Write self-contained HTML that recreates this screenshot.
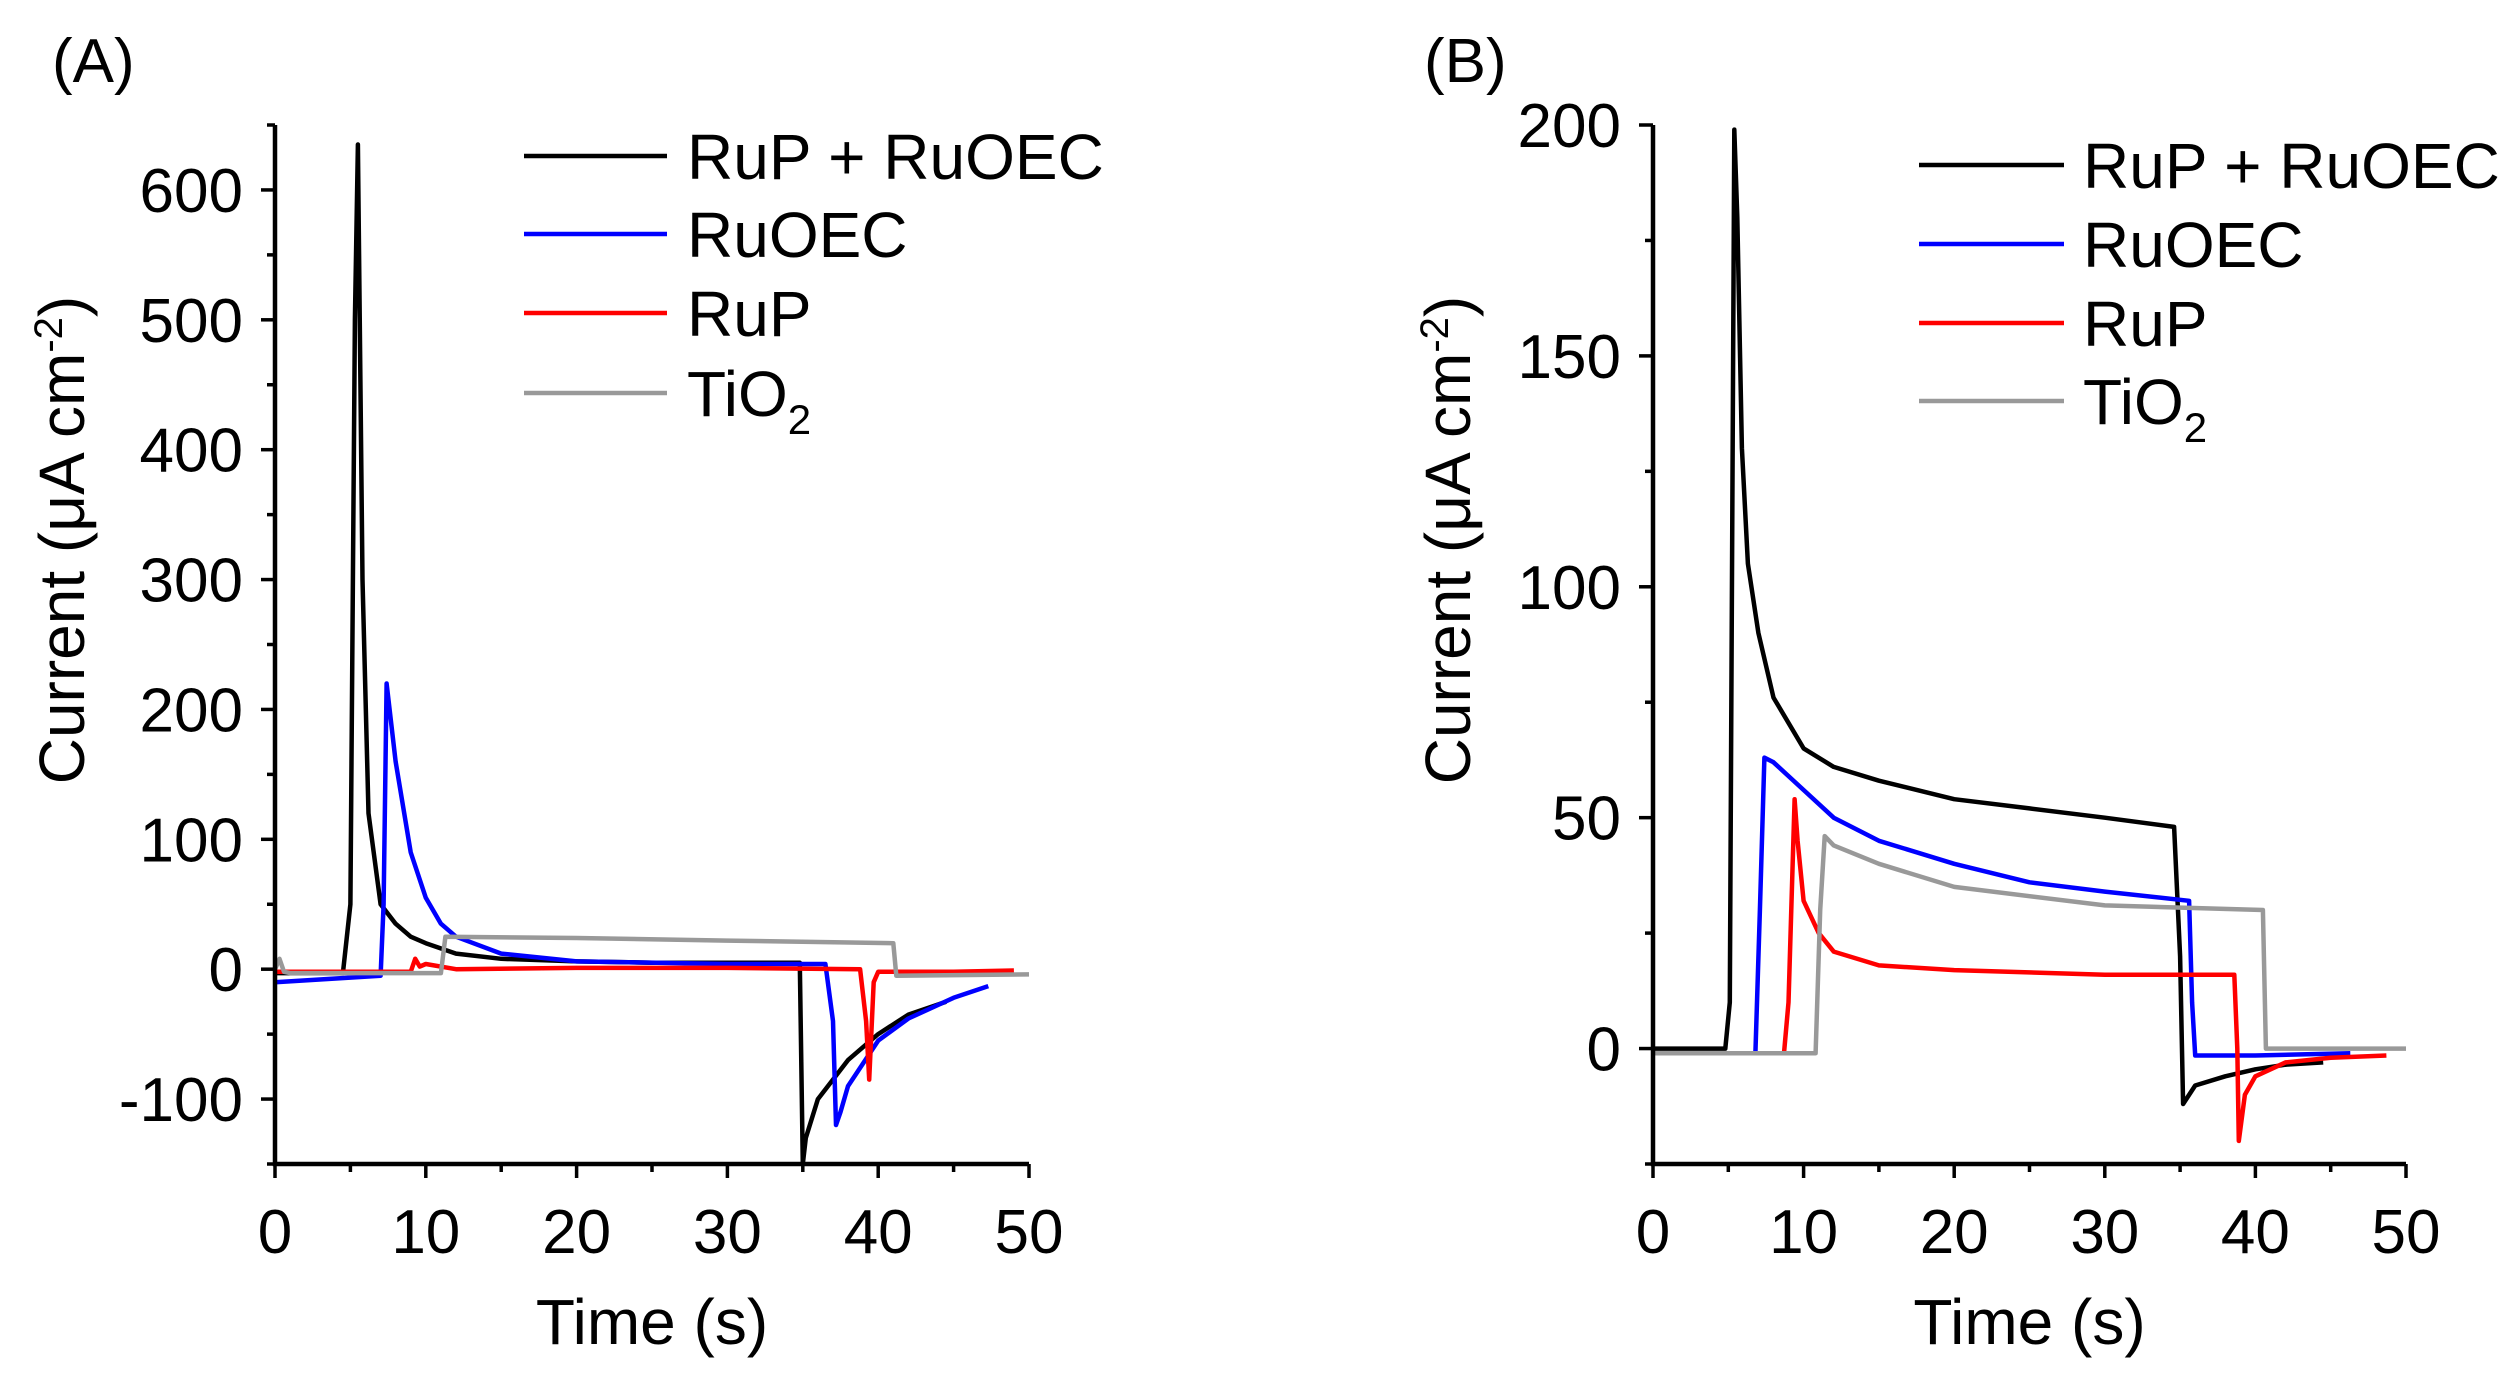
<!DOCTYPE html>
<html><head><meta charset="utf-8"><style>
html,body{margin:0;padding:0;background:#fff;}
svg{display:block;font-family:"Liberation Sans",Arial,sans-serif;}
</style></head><body>
<svg id="chart" width="2518" height="1378" viewBox="0 0 2518 1378"></svg>
<script>
// ---- Panel A data ----
const aBlackT = [0,4.5,5,5.3,5.5,5.8,6.2,7,8,9,10,12,15,20,25,30,34.8,35,35.2,36,38,40,42,44.5];
const aBlackV = [-3,-3,50,500,635,300,120,50,35,25,20,12,8,6,5,5,5,-150,-130,-100,-70,-50,-35,-25];
const aBlueT = [0,7,7.2,7.4,8,9,10,11,12,15,20,30,36.5,37,37.2,37.5,38,40,42,45,47.3];
const aBlueV = [-10,-5,50,220,160,90,55,35,25,12,6,4,4,-40,-120,-110,-90,-55,-38,-22,-13];
const aRedT = [0,9,9.3,9.6,10,12,20,30,38.8,39.2,39.4,39.7,40,45,49];
const aRedV = [-2,-2,8,2,4,0,1,1,0,-40,-85,-10,-2,-2,-1];
const aGrayT = [0,0.3,0.6,1,11,11.3,20,30,41,41.2,50];
const aGrayV = [0,8,-2,-3,-3,25,24,22,20,-5,-4];
// ---- Panel B data ----
const bBlackT = [0,4.8,5.1,5.4,5.6,5.9,6.3,7,8,10,12,15,20,25,30,34.6,35,35.2,36,38,40,42,44.5];
const bBlackV = [0,0,10,199,180,130,105,90,76,65,61,58,54,52,50,48,20,-12,-8,-6,-4.5,-3.5,-3];
const bBlueT = [0,6.8,7.1,7.4,8,10,12,15,20,25,30,35.6,35.8,36,40,46.3];
const bBlueV = [-1,-1,30,63,62,56,50,45,40,36,34,32,10,-1.5,-1.5,-1];
const bRedT = [0,8.7,9,9.4,9.6,10,11,12,15,20,30,38.6,38.8,38.9,39.3,40,42,45,48.7];
const bRedV = [-1,-1,10,54,45,32,25,21,18,17,16,16,0,-20,-10,-6,-3,-2,-1.5];
const bGrayT = [0,10.8,11.1,11.4,12,15,20,30,40.5,40.7,50];
const bGrayV = [-1,-1,30,46,44,40,35,31,30,0,0];
const xTicks = [0,10,20,30,40,50];
const aYTicks = [-100,0,100,200,300,400,500,600];
const bYTicks = [0,50,100,150,200];
const legendNames = ["RuP + RuOEC","RuOEC","RuP","TiO2"];
const colors = ["#000","#0000ff","#ff0000","#999"];

const NS="http://www.w3.org/2000/svg";
const svg=document.getElementById('chart');
function mk(tag,attrs,parent){const e=document.createElementNS(NS,tag);for(const k in attrs)e.setAttribute(k,attrs[k]);(parent||svg).appendChild(e);return e;}

function panel(cfg){
  const g=mk('g',{});
  
  
  const X=t=>cfg.x0+(t-0)/50*(cfg.x1-cfg.x0);
  const Y=v=>cfg.yb-(v-cfg.ymin)/(cfg.ymax-cfg.ymin)*(cfg.yb-cfg.yt);
  cfg.series.forEach((s,i)=>{
    const d=s.t.map((t,j)=>(j?'L':'M')+X(t).toFixed(1)+' '+Y(s.v[j]).toFixed(1)).join(' ');
    const p=mk('path',{d:d,fill:'none',stroke:colors[i],'stroke-width':4.5,'stroke-linejoin':'round'},g);
    
    
  });
  const ax=mk('path',{d:`M${cfg.x0} ${cfg.yt} L${cfg.x0} ${cfg.yb} L${cfg.x1} ${cfg.yb}`,fill:'none',stroke:'#000','stroke-width':4.5},g);
  
  
  for(let t=0;t<=50;t+=5){const L=t%10===0?14:8;mk('line',{x1:X(t),x2:X(t),y1:cfg.yb,y2:cfg.yb+L,stroke:'#000','stroke-width':3.5},g);}
  xTicks.forEach(t=>{const tx=mk('text',{x:X(t),y:1253,'font-size':62,'text-anchor':'middle'},g);tx.textContent=t;
    
    });
  for(let v=cfg.ymin;v<=cfg.ymax+0.01;v+=cfg.minor){const major=Math.abs((v/cfg.major)-Math.round(v/cfg.major))<1e-6;mk('line',{x1:cfg.x0-(major?14:8),x2:cfg.x0,y1:Y(v),y2:Y(v),stroke:'#000','stroke-width':3.5},g);}
  cfg.yTicks.forEach(v=>{const tx=mk('text',{x:cfg.x0-32,y:Y(v)+22,'font-size':62,'text-anchor':'end'},g);tx.textContent=v;
    
    });
  const xt=mk('text',{x:(cfg.x0+cfg.x1)/2,y:1344,'font-size':64,'text-anchor':'middle'},g);xt.textContent='Time (s)';
  
  
  const yt=mk('text',{transform:`translate(${cfg.ytx},540) rotate(-90)`,'font-size':64,'text-anchor':'middle'},g);
  yt.innerHTML='Current (μA cm<tspan dy="-22" font-size="40">-2</tspan><tspan dy="22">)</tspan>';
  
  
  const lb=mk('text',{x:cfg.lx,y:82,'font-size':62},g);lb.textContent=cfg.label;
  
  
  legendNames.forEach((n,i)=>{
    const y=cfg.legY[i];
    const le=mk('g',{},g);
    
    
    mk('line',{x1:cfg.legX1,x2:cfg.legX2,y1:y,y2:y,stroke:colors[i],'stroke-width':4.5},le);
    const tx=mk('text',{x:cfg.legTx,y:y+23,'font-size':64},le);
    if(n==='TiO2'){tx.innerHTML='TiO<tspan dy="18" font-size="42">2</tspan>';}else tx.textContent=n;
  });
}
panel({name:'panel-a',x0:275,x1:1029,yt:125,yb:1164,ymin:-150,ymax:650,major:100,minor:50,yTicks:aYTicks,ytx:84,lx:52,label:'(A)',
  legY:[156,234,313,393],legX1:524,legX2:667,legTx:687,
  series:[{key:'rup-ruoec',t:aBlackT,v:aBlackV},{key:'ruoec',t:aBlueT,v:aBlueV},{key:'rup',t:aRedT,v:aRedV},{key:'tio2',t:aGrayT,v:aGrayV}]});
panel({name:'panel-b',x0:1653,x1:2406,yt:125,yb:1164,ymin:-25,ymax:200,major:50,minor:25,yTicks:bYTicks,ytx:1470,lx:1424,label:'(B)',
  legY:[165,244,323,401],legX1:1919,legX2:2064,legTx:2083,
  series:[{key:'rup-ruoec',t:bBlackT,v:bBlackV},{key:'ruoec',t:bBlueT,v:bBlueV},{key:'rup',t:bRedT,v:bRedV},{key:'tio2',t:bGrayT,v:bGrayV}]});
</script>
</body></html>
